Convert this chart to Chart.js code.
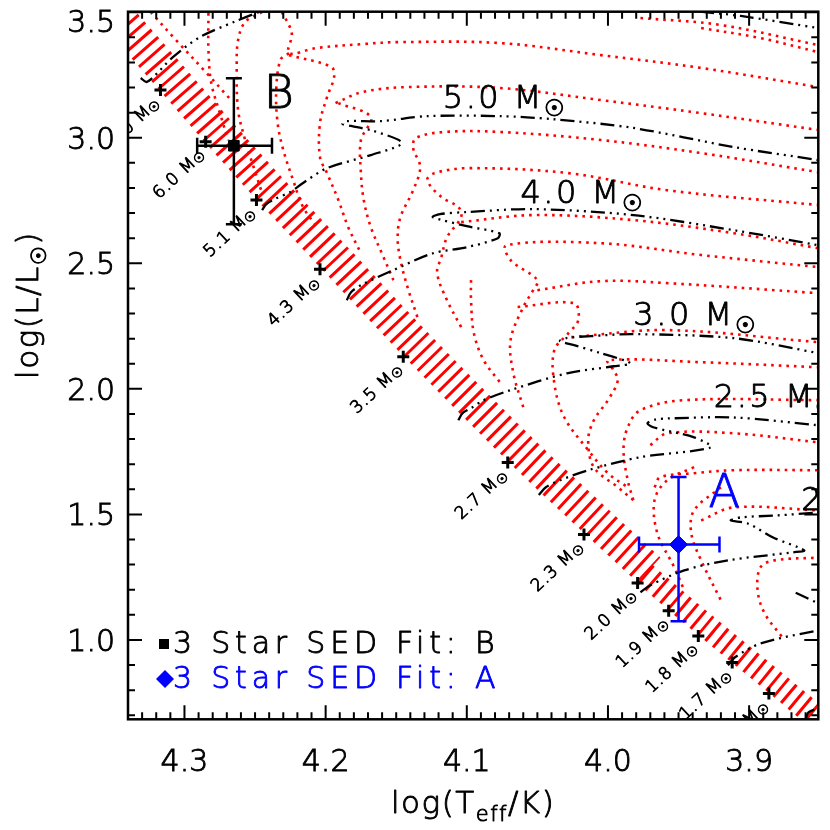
<!DOCTYPE html>
<html><head><meta charset="utf-8">
<script src="https://cdn.jsdelivr.net/npm/chart.js@4.4.0/dist/chart.umd.min.js"></script>
<style>html,body{margin:0;padding:0;background:#fff}canvas{display:block}</style>
</head><body>
<canvas id="c" width="830" height="830" style="width:830px;height:830px"></canvas>
<script>
// ---------------- DATA ----------------
const X_MIN = 3.851, X_MAX = 4.340;          // log(Teff/K), reversed axis
const Y_MIN = 0.684, Y_MAX = 3.502;          // log(L/Lsun)

// ZAMS reference points (black +) with mass labels
const ZAMS_MASS = ['7.0','6.0','5.1','4.3','3.5','2.7','2.3','2.0','1.9','1.8','1.7','1.6'];
const ZAMS_LOGT = [4.317,4.285,4.249,4.204,4.145,4.071,4.017,3.979,3.957,3.936,3.912,3.886];
const ZAMS_LOGL = [3.190,2.984,2.752,2.476,2.128,1.707,1.420,1.227,1.116,1.016,0.910,0.787];

// main-sequence band (fine-grid tracks) centre line
const BAND_UPPER_LOGT = [4.365,4.309,4.277,4.240,4.194,4.136,4.062,4.008,3.971];
const BAND_UPPER_LOGL = [3.596,3.236,3.030,2.798,2.523,2.176,1.757,1.471,1.279];
const BAND_LOWER_LOGT = [3.974,3.951,3.930,3.907,3.880,3.837];
const BAND_LOWER_LOGL = [1.263,1.152,1.053,0.947,0.823,0.621];

// black evolutionary tracks (dash-dot-dot-dot)
const BLACK_TRACK_LOGT = [
  [4.331,4.327,4.322,4.308,4.289,4.265,4.245,4.225],
  [3.963,3.941,3.906,3.851,3.835],
  [4.245,4.242,4.236,4.225,4.216,4.199,4.168,4.146,4.166,4.182,4.188,4.185,4.161,4.128,4.076,4.039,3.982,3.911,3.851,3.835],
  [4.185,4.182,4.175,4.152,4.124,4.100,4.078,4.077,4.100,4.124,4.119,4.100,4.053,3.982,3.911,3.851,3.835],
  [4.106,4.103,4.097,4.088,4.069,4.029,3.996,3.984,4.005,4.024,4.034,4.030,4.012,3.982,3.911,3.851,3.835],
  [4.049,4.044,4.034,4.014,3.977,3.927,3.939,3.968,3.972,3.966,3.958,3.911,3.851,3.835],
  [3.977,3.970,3.946,3.915,3.869,3.861,3.883,3.901,3.913,3.906,3.880,3.851,3.835],
  [3.915,3.910,3.892,3.851,3.835],
  [3.867,3.851,3.842],
  [3.860,3.858,3.851]
];
const BLACK_TRACK_LOGL = [
  [3.238,3.222,3.242,3.322,3.401,3.461,3.505,3.537],
  [3.513,3.505,3.485,3.437,3.425],
  [2.712,2.736,2.756,2.784,2.820,2.879,2.931,2.979,3.027,3.047,3.055,3.066,3.066,3.086,3.086,3.074,3.039,2.963,2.911,2.895],
  [2.353,2.385,2.413,2.473,2.540,2.564,2.600,2.620,2.648,2.684,2.696,2.704,2.716,2.692,2.632,2.572,2.556],
  [1.875,1.903,1.923,1.955,1.995,2.062,2.090,2.102,2.142,2.174,2.190,2.202,2.210,2.218,2.202,2.142,2.122],
  [1.577,1.608,1.636,1.676,1.728,1.767,1.807,1.847,1.863,1.878,1.882,1.886,1.855,1.843],
  [1.190,1.218,1.277,1.317,1.349,1.357,1.408,1.464,1.476,1.488,1.496,1.508,1.516],
  [0.899,0.931,0.986,1.038,1.050],
  [1.188,1.146,1.126],
  [0.684,0.712,0.728]
];
// labels of black tracks
const TRACK_LABEL_MASS = ['5.0','4.0','3.0','2.5','2.0'];
const TRACK_LABEL_LOGT = [4.117,4.062,3.982,3.925,3.863];
const TRACK_LABEL_LOGL = [3.118,2.740,2.254,1.927,1.516];

// red dotted tracks
const RED_TRACK_LOGT = [
  [3.977,3.920,3.851],
  [3.934,3.892,3.851],
  [4.231,4.224,4.226,4.207,4.174,4.147,4.076,4.005,3.934,3.851],
  [4.193,4.174,4.141,4.076,4.005,3.934,3.851],
  [4.135,4.142,4.147,4.149,4.147,4.138,4.133,4.138,4.136,4.116,4.076,4.005,3.934,3.851],
  [4.104,4.114,4.121,4.118,4.114,4.104,4.106,4.118,4.128,4.123,4.099,4.028,3.958,3.851],
  [4.104,4.053,3.982,3.911,3.851],
  [4.060,4.067,4.069,4.060,4.053,4.050,4.069,4.072,4.005,3.934,3.851],
  [4.050,4.005,3.958,3.851],
  [4.026,3.958,3.851],
  [3.982,3.993,4.010,4.014,4.010,4.000,3.993,3.996,4.000,3.934,3.851],
  [3.982,3.986,3.989,3.986,3.977,3.946,3.851],
  [3.970,3.958,3.911,3.851],
  [3.967,3.963,3.939,3.911,3.851],
  [3.934,3.911,3.851],
  [3.877,3.889,3.894,3.892,3.882,3.851],
  [4.283,4.283,4.281,4.274,4.269],
  [4.245,4.257,4.262,4.263,4.262,4.257,4.251,4.245],
  [4.226,4.232,4.235,4.234,4.230,4.223,4.216,4.206],
  [4.226,4.196,4.194,4.199,4.204,4.204,4.199,4.191,4.184,4.175],
  [4.191,4.168,4.175,4.175,4.173,4.168,4.159,4.152],
  [4.064,4.024,4.021,4.028,4.038,4.038,4.031,4.014,4.000,3.986],
  [4.097,4.097,4.095,4.088,4.076],
  [3.939,3.958,3.967,3.965,3.953,3.946],
  [3.920,3.939,3.941,3.934,3.920],
  [4.324,4.306,4.285,4.267]
];
const RED_TRACK_LOGL = [
  [3.477,3.449,3.369],
  [3.437,3.397,3.341],
  [3.501,3.417,3.337,3.357,3.373,3.381,3.377,3.329,3.278,3.202],
  [3.138,3.182,3.202,3.198,3.150,3.098,3.031],
  [2.286,2.405,2.513,2.600,2.684,2.791,2.883,2.959,2.999,3.023,3.023,2.991,2.939,2.863],
  [2.246,2.353,2.461,2.525,2.604,2.684,2.724,2.764,2.831,2.859,2.879,2.859,2.791,2.732],
  [2.664,2.692,2.672,2.620,2.560],
  [1.927,2.062,2.194,2.326,2.393,2.433,2.513,2.572,2.580,2.533,2.485],
  [2.393,2.429,2.421,2.381],
  [2.206,2.234,2.186],
  [1.557,1.608,1.688,1.795,1.875,1.955,2.034,2.074,2.114,2.106,2.086],
  [1.557,1.636,1.756,1.847,1.915,1.955,1.955],
  [1.776,1.823,1.823,1.787],
  [1.608,1.648,1.664,1.676,1.676],
  [1.476,1.528,1.516],
  [1.014,1.106,1.198,1.289,1.317,1.328],
  [3.497,3.349,3.218,3.082,2.991],
  [3.501,3.461,3.389,3.282,3.110,2.991,2.883,2.779],
  [3.337,3.310,3.190,3.058,2.951,2.831,2.724,2.644],
  [3.329,3.282,3.242,3.162,3.058,2.923,2.859,2.752,2.644,2.540],
  [3.138,3.082,2.991,2.859,2.752,2.644,2.525,2.433],
  [2.326,2.341,2.274,2.222,2.154,2.022,1.887,1.756,1.664,1.608],
  [2.433,2.353,2.222,2.114,2.022],
  [1.688,1.636,1.557,1.425,1.289,1.198],
  [1.608,1.516,1.425,1.317,1.158],
  [3.501,3.389,3.262,3.150]
];

// SED fit results
const FIT_NAMES   = ['B','A'];
const FIT_LOGT    = [4.265, 3.950];
const FIT_LOGT_LO = [0.027, 0.029];   // toward lower logT
const FIT_LOGT_HI = [0.026, 0.028];   // toward higher logT
const FIT_LOGL    = [2.968, 1.380];
const FIT_LOGL_LO = [0.312, 0.306];
const FIT_LOGL_HI = [0.269, 0.269];
const FIT_COLORS  = ['#000000','#0000ff'];
const LEGEND_TEXT = ['3 Star SED Fit: B','3 Star SED Fit: A'];

// ---------------- BUILD ----------------
const FONT = "'DejaVu Sans', sans-serif";
const W = '200';
const STROKE = 0.9;
const zip = (a, b) => a.map((v, i) => ({x: v, y: b[i]}));
const datasets = [];
datasets.push({data: zip(BAND_UPPER_LOGT, BAND_UPPER_LOGL), showLine:true, borderColor:'#ff0000',
  borderWidth:34, borderDash:[3,6.8], borderCapStyle:'butt', borderJoinStyle:'bevel', pointRadius:0, tension:0.3, clip:0, order:30});
datasets.push({data: zip(BAND_LOWER_LOGT, BAND_LOWER_LOGL), showLine:true, borderColor:'#ff0000',
  borderWidth:24, borderDash:[3,6.8], borderCapStyle:'butt', borderJoinStyle:'bevel', pointRadius:0, tension:0.3, clip:0, order:30});
RED_TRACK_LOGT.forEach((t, i) => datasets.push({data: zip(t, RED_TRACK_LOGL[i]), showLine:true,
  borderColor:'#ff0000', borderWidth:2.6, borderDash:[2.6,5], borderCapStyle:'butt', pointRadius:0, tension:0.35, clip:0, order:20}));
BLACK_TRACK_LOGT.forEach((t, i) => datasets.push({data: zip(t, BLACK_TRACK_LOGL[i]), showLine:true,
  borderColor:'#000000', borderWidth:2.3, borderDash:[14,5,2,5,2,5,2,5], borderCapStyle:'butt', pointRadius:0, tension:0.3, clip:0, order:10}));
datasets.push({data: zip(ZAMS_LOGT, ZAMS_LOGL), showLine:false, pointStyle:'cross', pointRadius:6,
  pointBorderWidth:3, borderColor:'#000', pointBorderColor:'#000', clip:0, order:5});
datasets.push({data: [{x:FIT_LOGT[0], y:FIT_LOGL[0]}], showLine:false, pointStyle:'rect', pointRadius:7.5,
  pointBackgroundColor:FIT_COLORS[0], pointBorderColor:FIT_COLORS[0], pointBorderWidth:1, order:1});
datasets.push({data: [{x:FIT_LOGT[1], y:FIT_LOGL[1]}], showLine:false, pointStyle:'rectRot', pointRadius:9,
  pointBackgroundColor:FIT_COLORS[1], pointBorderColor:FIT_COLORS[1], pointBorderWidth:1, order:1});

function richText(ctx, parts, x, y, align, spacing) {
  ctx.letterSpacing = (spacing || 0) + 'px';
  let w = 0;
  parts.forEach(p => { ctx.font = W + ' ' + p.size + 'px ' + FONT; p.w = ctx.measureText(p.t).width; w += p.w; });
  let cx = align === 'right' ? x - w : (align === 'center' ? x - w / 2 : x);
  ctx.textAlign = 'left';
  ctx.strokeStyle = ctx.fillStyle; ctx.lineWidth = STROKE; ctx.setLineDash([]); ctx.lineJoin = 'round';
  parts.forEach(p => {
    ctx.font = W + ' ' + p.size + 'px ' + FONT;
    ctx.fillText(p.t, cx, y + (p.dy || 0));
    ctx.strokeText(p.t, cx, y + (p.dy || 0));
    cx += p.w;
  });
  ctx.letterSpacing = '0px';
}

const hrdPlugin = {
  id: 'hrd',
  afterDatasetsDraw(chart) {
    const {ctx, chartArea: a, scales: {x, y}} = chart;
    ctx.save();
    ctx.beginPath(); ctx.rect(a.left, a.top, a.right - a.left, a.bottom - a.top); ctx.clip();
    // error bars
    FIT_LOGT.forEach((t, i) => {
      const px = x.getPixelForValue(t), py = y.getPixelForValue(FIT_LOGL[i]);
      const x1 = x.getPixelForValue(t + FIT_LOGT_HI[i]), x2 = x.getPixelForValue(t - FIT_LOGT_LO[i]);
      const y1 = y.getPixelForValue(FIT_LOGL[i] + FIT_LOGL_HI[i]), y2 = y.getPixelForValue(FIT_LOGL[i] - FIT_LOGL_LO[i]);
      ctx.strokeStyle = FIT_COLORS[i]; ctx.lineWidth = 2.5; ctx.setLineDash([]);
      ctx.beginPath();
      ctx.moveTo(x1, py); ctx.lineTo(x2, py);
      ctx.moveTo(x1, py - 8); ctx.lineTo(x1, py + 8);
      ctx.moveTo(x2, py - 8); ctx.lineTo(x2, py + 8);
      ctx.moveTo(px, y1); ctx.lineTo(px, y2);
      ctx.moveTo(px - 8, y1); ctx.lineTo(px + 8, y1);
      ctx.moveTo(px - 8, y2); ctx.lineTo(px + 8, y2);
      ctx.stroke();
      ctx.fillStyle = FIT_COLORS[i];
      ctx.textBaseline = 'alphabetic';
      richText(ctx, [{t: FIT_NAMES[i], size: 46}], px + 30, py - 38, 'left');
    });
    // track labels
    ctx.fillStyle = '#000';
    ctx.textBaseline = 'alphabetic';
    TRACK_LABEL_MASS.forEach((m, i) => {
      richText(ctx, [{t: m + ' M', size: 32}, {t: '\u2609', size: 23, dy: 8}],
        x.getPixelForValue(TRACK_LABEL_LOGT[i]), y.getPixelForValue(TRACK_LABEL_LOGL[i]), 'left', 2.5);
    });
    // ZAMS mass labels (rotated)
    ctx.textBaseline = 'middle';
    ZAMS_MASS.forEach((m, i) => {
      const px = x.getPixelForValue(ZAMS_LOGT[i]), py = y.getPixelForValue(ZAMS_LOGL[i]);
      ctx.save();
      ctx.translate(px - 2, py + 10);
      ctx.rotate(-43 * Math.PI / 180);
      ctx.fillStyle = '#000';
      richText(ctx, [{t: m + ' M', size: 17}, {t: '\u2609', size: 13, dy: 3}], 0, 0, 'right', 1);
      ctx.restore();
    });
    ctx.restore();
  },
  afterDraw(chart) {
    const {ctx, chartArea: a, scales: {x, y}} = chart;
    ctx.save();
    ctx.strokeStyle = '#000'; ctx.lineWidth = 2.5; ctx.setLineDash([]);
    ctx.strokeRect(a.left, a.top, a.right - a.left, a.bottom - a.top);
    ctx.lineWidth = 2;
    ctx.beginPath();
    for (let i = Math.ceil(X_MIN * 100); i <= Math.floor(X_MAX * 100); i++) {
      const px = x.getPixelForValue(i / 100);
      const len = (i % 10 === 0) ? 14 : 7;
      ctx.moveTo(px, a.bottom); ctx.lineTo(px, a.bottom - len);
      ctx.moveTo(px, a.top); ctx.lineTo(px, a.top + len);
    }
    for (let i = Math.ceil(Y_MIN * 10); i <= Math.floor(Y_MAX * 10); i++) {
      const py = y.getPixelForValue(i / 10);
      const len = (i % 5 === 0) ? 14 : 7;
      ctx.moveTo(a.left, py); ctx.lineTo(a.left + len, py);
      ctx.moveTo(a.right, py); ctx.lineTo(a.right - len, py);
    }
    ctx.stroke();
    // axis titles
    ctx.fillStyle = '#000';
    ctx.textBaseline = 'alphabetic';
    richText(ctx, [{t: 'log(T', size: 31}, {t: 'eff', size: 21, dy: 8}, {t: '/K)', size: 31}],
      (a.left + a.right) / 2, 813, 'center', 1.5);
    ctx.save();
    ctx.translate(38, 305);
    ctx.rotate(-Math.PI / 2);
    richText(ctx, [{t: 'log(L/L', size: 31}, {t: '\u2609', size: 21, dy: 8}, {t: ')', size: 31}], 0, 0, 'center', 1.5);
    ctx.restore();
    // legend
    ctx.textBaseline = 'middle';
    ctx.fillStyle = FIT_COLORS[0];
    ctx.fillRect(159, 639, 10, 10);
    richText(ctx, [{t: LEGEND_TEXT[0], size: 30}], 173, 645, 'left', 4.8);
    ctx.fillStyle = FIT_COLORS[1];
    ctx.beginPath(); ctx.moveTo(165, 670); ctx.lineTo(174, 679); ctx.lineTo(165, 688); ctx.lineTo(156, 679); ctx.closePath(); ctx.fill();
    richText(ctx, [{t: LEGEND_TEXT[1], size: 30}], 173, 680, 'left', 4.8);
    ctx.restore();
  }
};

new Chart(document.getElementById('c').getContext('2d'), {
  type: 'scatter',
  data: {datasets},
  options: {
    responsive: false, devicePixelRatio: 1, animation: false,
    layout: {padding: {left: 0, right: 11.7, top: 11.7, bottom: 0}},
    plugins: {legend: {display: false}, tooltip: {enabled: false}},
    scales: {
      x: {type: 'linear', reverse: true, min: X_MIN, max: X_MAX,
        grid: {display: false, drawTicks: false}, border: {display: false},
        ticks: {stepSize: 0.1, includeBounds: false, padding: 26, color: '#000',
          textStrokeColor: '#000', textStrokeWidth: STROKE,
          font: {family: FONT, size: 30, weight: W}, callback: v => v.toFixed(1), maxRotation: 0, autoSkip: false},
        afterFit: s => { s.height = 110.7; s.paddingLeft = 0; s.paddingRight = 0; }},
      y: {type: 'linear', min: Y_MIN, max: Y_MAX,
        grid: {display: false, drawTicks: false}, border: {display: false},
        ticks: {stepSize: 0.5, includeBounds: false, padding: 13, color: '#000', labelOffset: 3,
          textStrokeColor: '#000', textStrokeWidth: STROKE,
          font: {family: FONT, size: 30, weight: W, lineHeight: 0.6},
          callback: v => Math.abs(v - 3.5) < 1e-6 ? ['', v.toFixed(1)] : v.toFixed(1), autoSkip: false},
        afterFit: s => { s.width = 128; s.paddingTop = 0; s.paddingBottom = 0; }}
    }
  },
  plugins: [hrdPlugin]
});
</script>
</body></html>
